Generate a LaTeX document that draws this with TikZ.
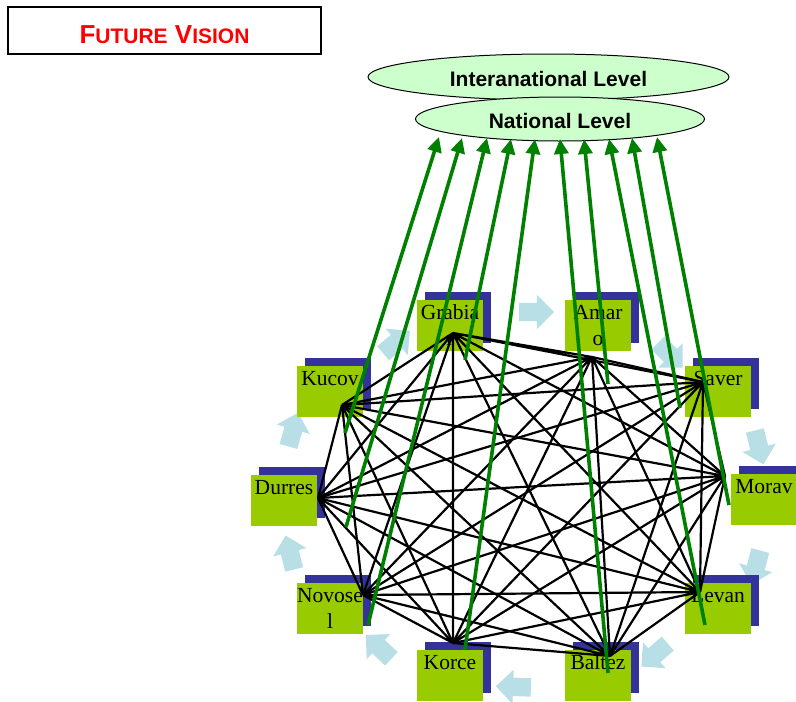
\documentclass[tikz,border=0pt]{standalone}
\usepackage{fontspec}
\setmainfont{Liberation Serif}
\setsansfont{Liberation Sans}
\usetikzlibrary{shapes.geometric,shapes.arrows,shadows,arrows.meta}

\definecolor{townGreen}{HTML}{99CC00}
\definecolor{townBlue}{HTML}{333399}
\definecolor{flowBlue}{RGB}{185,223,230}
\definecolor{levelGreen}{HTML}{CCFFCC}
\definecolor{riseGreen}{HTML}{008000}

\tikzset{
  town/.style={fill=townGreen, minimum width=66pt, minimum height=51pt, inner sep=0pt,
    general shadow={fill=townBlue, shadow xshift=8pt, shadow yshift=8pt}},
  townlbl/.style={anchor=north, yshift=-5pt, inner sep=0pt, align=center,
    font=\fontsize{21.5}{26}\selectfont},
  level/.style={ellipse, draw=black, line width=1pt, fill=levelGreen, inner sep=0pt,
    text height=19pt, text depth=0pt, font=\sffamily\bfseries\fontsize{21}{24}\selectfont},
  flow/.style={single arrow, fill=flowBlue, minimum height=35pt, inner xsep=0pt,
    inner ysep=9pt, text height=0pt, text depth=0pt, single arrow head extend=8pt},
  link/.style={black, line width=2.2pt},
  rise/.style={riseGreen, line width=3.6pt, -{Triangle[length=15pt,width=14pt]}}
}

\begin{document}
\begin{tikzpicture}[x=1pt,y=-1pt]
\useasboundingbox (0,0) rectangle (796,702);

% title
\node[draw=black, line width=1.5pt, minimum width=313pt, minimum height=47pt, inner sep=0pt,
  text height=25pt, text depth=0pt, text=red, font=\sffamily\bfseries\fontsize{26}{26}\selectfont]
  (title) at (164.5,30.5) {F{\fontsize{21}{21}\selectfont UTURE} V{\fontsize{21}{21}\selectfont ISION}};

% levels
\node[level, minimum width=361pt, minimum height=46pt] (intl) at (548.5,77) {Interanational Level};
\node[level, minimum width=289pt, minimum height=44pt] (natl) at (560,119) {National Level};

% cycle arrows
\node[flow, rotate=40] (f1) at (393,345) {};
\node[flow, rotate=0] (f2) at (532,312) {};
\node[flow, rotate=-45] (f3) at (667,352) {};
\node[flow, rotate=-76] (f4) at (758,443) {};
\node[flow, rotate=-105] (f5) at (757,563) {};
\node[flow, rotate=-139] (f6) at (658,652) {};
\node[flow, rotate=178] (f7) at (518,687) {};
\node[flow, rotate=137] (f8) at (382,650) {};
\node[flow, rotate=104] (f9) at (291,557) {};
\node[flow, rotate=74] (f10) at (292,434) {};

% towns
\node[town] (grabia) at (450,325.5) {};
\node[town] (amaro) at (598,325.5) {};
\node[town] (saver) at (718,391.5) {};
\node[town] (morav) at (764,499.5) {};
\node[town] (levan) at (718,608.5) {};
\node[town] (baltez) at (598,675.5) {};
\node[town] (korce) at (450,675.5) {};
\node[town] (novosel) at (330,608.5) {};
\node[town] (durres) at (284,500.5) {};
\node[town] (kucov) at (330,391.5) {};

\node[townlbl] (tGrabia) at (grabia.north) {Grabia\\r};
\node[townlbl] (tAmaro) at (amaro.north) {Amar\\o};
\node[townlbl] (tSaver) at (saver.north) {Saver};
\node[townlbl] (tMorav) at (morav.north) {Morav};
\node[townlbl] (tLevan) at (levan.north) {Levan};
\node[townlbl] (tBaltez) at (baltez.north) {Baltez};
\node[townlbl] (tKorce) at (korce.north) {Korce};
\node[townlbl] (tNovosel) at (novosel.north) {Novose\\l};
\node[townlbl] (tDurres) at (durres.north) {Durres};
\node[townlbl] (tKucov) at (kucov.north) {Kucov};

% meeting points of the links
\coordinate (hGrabia) at (453,333);
\coordinate (hAmaro) at (592,357);
\coordinate (hSaver) at (703,382);
\coordinate (hMorav) at (725,476);
\coordinate (hLevan) at (700,592);
\coordinate (hBaltez) at (610,656);
\coordinate (hKorce) at (453,643);
\coordinate (hNovosel) at (363,595);
\coordinate (hDurres) at (318,498);
\coordinate (hKucov) at (342,405);

% every town to every town
\draw[link] (hGrabia) -- (hAmaro) (hGrabia) -- (hSaver) (hGrabia) -- (hMorav)
  (hGrabia) -- (hLevan) (hGrabia) -- (hBaltez) (hGrabia) -- (hKorce)
  (hGrabia) -- (hNovosel) (hGrabia) -- (hDurres) (hGrabia) -- (hKucov);
\draw[link] (hAmaro) -- (hSaver) (hAmaro) -- (hMorav) (hAmaro) -- (hLevan)
  (hAmaro) -- (hBaltez) (hAmaro) -- (hKorce) (hAmaro) -- (hNovosel)
  (hAmaro) -- (hDurres) (hAmaro) -- (hKucov);
\draw[link] (hSaver) -- (hMorav) (hSaver) -- (hLevan) (hSaver) -- (hBaltez)
  (hSaver) -- (hKorce) (hSaver) -- (hNovosel) (hSaver) -- (hDurres) (hSaver) -- (hKucov);
\draw[link] (hMorav) -- (hLevan) (hMorav) -- (hBaltez) (hMorav) -- (hKorce)
  (hMorav) -- (hNovosel) (hMorav) -- (hDurres) (hMorav) -- (hKucov);
\draw[link] (hLevan) -- (hBaltez) (hLevan) -- (hKorce) (hLevan) -- (hNovosel)
  (hLevan) -- (hDurres) (hLevan) -- (hKucov);
\draw[link] (hBaltez) -- (hKorce) (hBaltez) -- (hNovosel) (hBaltez) -- (hDurres)
  (hBaltez) -- (hKucov);
\draw[link] (hKorce) -- (hNovosel) (hKorce) -- (hDurres) (hKorce) -- (hKucov);
\draw[link] (hNovosel) -- (hDurres) (hNovosel) -- (hKucov);
\draw[link] (hDurres) -- (hKucov);

% arrows up to the national level
\coordinate (sKucov) at (345,433);
\coordinate (sDurres) at (346,527);
\coordinate (sNovosel) at (368,625);
\coordinate (sGrabia) at (465,360);
\coordinate (sKorce) at (465,650);
\coordinate (sBaltez) at (608,673);
\coordinate (sAmaro) at (608,384);
\coordinate (sLevan) at (705,625);
\coordinate (sSaver) at (680,408);
\coordinate (sMorav) at (729,505);
\coordinate (up1) at (439,137);
\coordinate (up2) at (462,138);
\coordinate (up3) at (487,138);
\coordinate (up4) at (511,139);
\coordinate (up5) at (535,139);
\coordinate (up6) at (560,139);
\coordinate (up7) at (584,139);
\coordinate (up8) at (609,139);
\coordinate (up9) at (632,138);
\coordinate (up10) at (657,137);
\draw[rise] (sKucov) -- (up1);
\draw[rise] (sDurres) -- (up2);
\draw[rise] (sNovosel) -- (up3);
\draw[rise] (sGrabia) -- (up4);
\draw[rise] (sKorce) -- (up5);
\draw[rise] (sBaltez) -- (up6);
\draw[rise] (sAmaro) -- (up7);
\draw[rise] (sLevan) -- (up8);
\draw[rise] (sSaver) -- (up9);
\draw[rise] (sMorav) -- (up10);
\end{tikzpicture}
\end{document}
